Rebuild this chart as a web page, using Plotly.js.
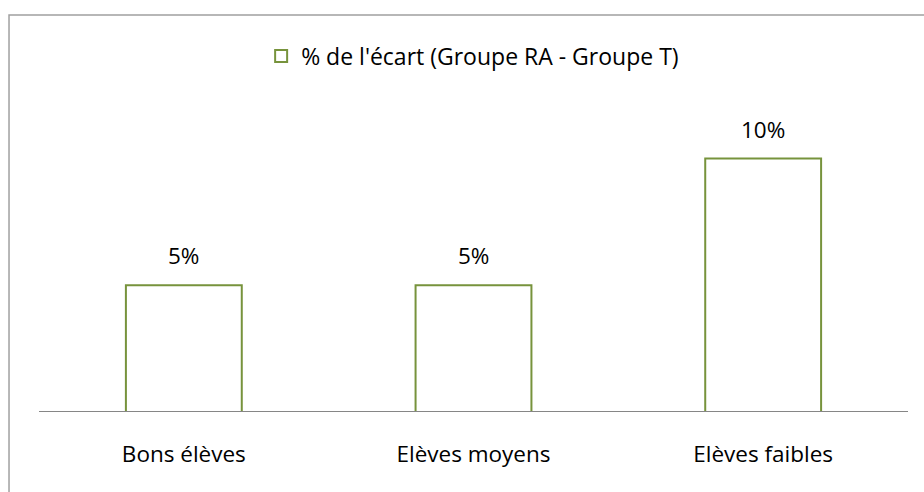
<!DOCTYPE html>
<html>
<head>
<meta charset="utf-8">
<script src="https://cdn.plot.ly/plotly-3.0.1.min.js"></script>
<style>html,body{margin:0;padding:0;background:#fff;}#chart{width:924px;height:492px;}</style>
</head>
<body>
<div id="chart"></div>
<script>
const categories = ["Bons élèves", "Elèves moyens", "Elèves faibles"];
const values = [0.05, 0.05, 0.10];
const valueLabels = ["5%", "5%", "10%"];
const seriesName = "% de l'écart (Groupe RA - Groupe T)";

const FONT = "'Open Sans', Lato, sans-serif";
const GREEN = "#77933c";

const trace = {
  type: "bar",
  x: categories,
  y: values,
  name: seriesName,
  showlegend: true,
  marker: {color: "#ffffff", line: {color: GREEN, width: 2}},
  hoverinfo: "skip"
};

const annotations = categories.map((c, i) => ({
  x: c, y: values[i], xref: "x", yref: "y",
  text: valueLabels[i], showarrow: false,
  yanchor: "bottom", yshift: 12,
  font: {family: FONT, size: 22.5, color: "#000"}
}));

const layout = {
  width: 924, height: 492,
  margin: {l: 39, r: 16, t: 100, b: 80},
  paper_bgcolor: "#fff", plot_bgcolor: "#fff",
  bargap: 0.6,
  showlegend: true,
  legend: {
    orientation: "h", x: 0.499, xanchor: "center", y: 1.141, yanchor: "middle",
    font: {family: FONT, size: 23, color: "#000"},
    itemwidth: 30
  },
  xaxis: {
    showgrid: false, zeroline: false, showline: false,
    ticks: "", tickfont: {family: FONT, size: 22.5, color: "#000"},
    ticklabelstandoff: 26
  },
  yaxis: {
    range: [0, 0.1231], showgrid: false, zeroline: false,
    showticklabels: false, ticks: "", showline: false, fixedrange: true
  },
  annotations: annotations,
  shapes: [
    {
      type: "line", xref: "paper", yref: "y",
      x0: 0, x1: 1.0, y0: 0, y1: 0,
      line: {color: "#868686", width: 2.2}, layer: "above"
    },
    {
      type: "rect", xref: "paper", yref: "paper",
      x0: -0.0345, x1: 2, y0: -2, y1: 1.2724,
      line: {color: "#a0a0a0", width: 1.5}, fillcolor: "rgba(0,0,0,0)", layer: "above"
    }
  ]
};

Plotly.newPlot("chart", [trace], layout, {displayModeBar: false, staticPlot: true});
</script>
</body>
</html>
